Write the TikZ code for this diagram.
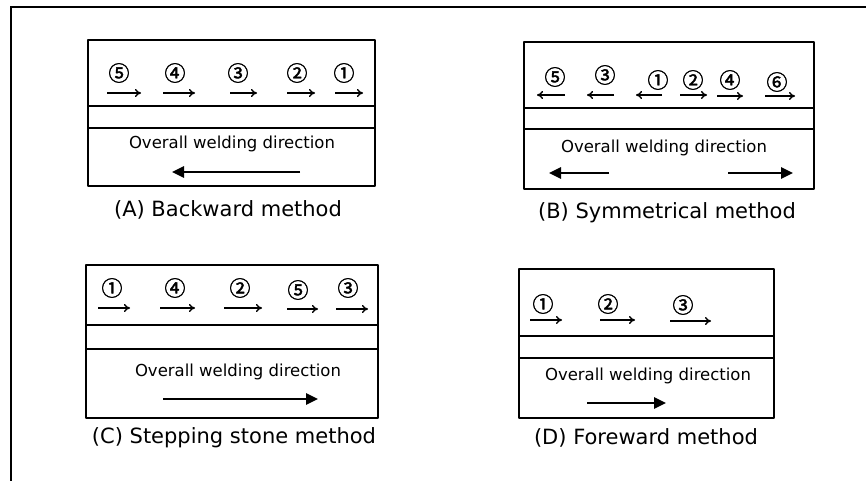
\documentclass[tikz,border=0pt]{standalone}
\usepackage{fontspec}
\setmainfont{DejaVu Sans}
\newfontfamily\numfont[FakeBold=1.8]{Noto Sans CJK JP}
\usetikzlibrary{arrows.meta}

\begin{document}
\begin{tikzpicture}[x=1pt, y=-1pt, line join=round,
    plate/.style={line width=1.6pt},
    seq/.style={-{To[length=6pt,width=8pt]}, line width=1.4pt},
    overall/.style={-{Triangle[length=12pt,width=11pt]}, line width=2.6pt},
    num/.style={font=\numfont\fontsize{21}{21}\selectfont, inner sep=0pt},
    dirtext/.style={font=\fontsize{16.5}{18}\selectfont, inner sep=0pt},
    caption/.style={font=\fontsize{21}{22}\selectfont, inner sep=0pt}]
  \useasboundingbox (0,0) rectangle (866,481);
  \draw[line width=2.5pt] (10,7) -- (866,7) (11,7) -- (11,481);

  \draw[plate] (88,40) rectangle (375,186);
  \draw[plate] (88,106) -- (375,106) (88,128) -- (375,128);
  \node[num] (a5) at (119,73) {⑤};
  \node[num] (a4) at (175,73) {④};
  \node[num] (a3) at (238,73) {③};
  \node[num] (a2) at (297,73) {②};
  \node[num] (a1) at (344,73) {①};
  \draw[seq] (107,93) -- (141,93);
  \draw[seq] (163,93) -- (195,93);
  \draw[seq] (230,93) -- (257,93);
  \draw[seq] (287,93) -- (315,93);
  \draw[seq] (335,93) -- (363,93);
  \node[dirtext] (atext) at (232,144) {Overall welding direction};
  \draw[overall] (300,172) -- (172,172);
  \node[caption] (acap) at (228,210) {(A) Backward method};

  \draw[plate] (524,42) rectangle (814,189);
  \draw[plate] (524,108) -- (814,108) (524,129) -- (814,129);
  \node[num] (b5) at (555,77) {⑤};
  \node[num] (b3) at (605,75) {③};
  \node[num] (b1) at (658,80) {①};
  \node[num] (b2) at (693,80) {②};
  \node[num] (b4) at (730,80) {④};
  \node[num] (b6) at (777,82) {⑥};
  \draw[seq] (565,95) -- (537,95);
  \draw[seq] (614,95) -- (587,95);
  \draw[seq] (662,95) -- (636,95);
  \draw[seq] (680,95) -- (707,95);
  \draw[seq] (717,96) -- (743,96);
  \draw[seq] (765,96) -- (795,96);
  \node[dirtext] (btext) at (664,148) {Overall welding direction};
  \draw[overall] (609,173) -- (549,173);
  \draw[overall] (728,173) -- (793,173);
  \node[caption] (bcap) at (667,213) {(B) Symmetrical method};

  \draw[plate] (86,265) rectangle (378,418);
  \draw[plate] (86,325) -- (378,325) (86,349) -- (378,349);
  \node[num] (c1) at (112,288) {①};
  \node[num] (c4) at (175,288) {④};
  \node[num] (c2) at (240,288) {②};
  \node[num] (c5) at (298,290) {⑤};
  \node[num] (c3) at (348,288) {③};
  \draw[seq] (98,308) -- (130,308);
  \draw[seq] (160,308) -- (195,308);
  \draw[seq] (224,308) -- (262,308);
  \draw[seq] (287,309) -- (318,309);
  \draw[seq] (336,309) -- (368,309);
  \node[dirtext] (ctext) at (238,372) {Overall welding direction};
  \draw[overall] (163,399) -- (318,399);
  \node[caption] (ccap) at (234,438) {(C) Stepping stone method};

  \draw[plate] (519,269) rectangle (774,418);
  \draw[plate] (519,336) -- (774,336) (519,358) -- (774,358);
  \node[num] (d1) at (543,304) {①};
  \node[num] (d2) at (608,304) {②};
  \node[num] (d3) at (683,305) {③};
  \draw[seq] (530,320) -- (562,320);
  \draw[seq] (600,320) -- (635,320);
  \draw[seq] (670,321) -- (711,321);
  \node[dirtext] (dtext) at (648,376) {Overall welding direction};
  \draw[overall] (587,403) -- (666,403);
  \node[caption] (dcap) at (646,438) {(D) Foreward method};
\end{tikzpicture}
\end{document}
